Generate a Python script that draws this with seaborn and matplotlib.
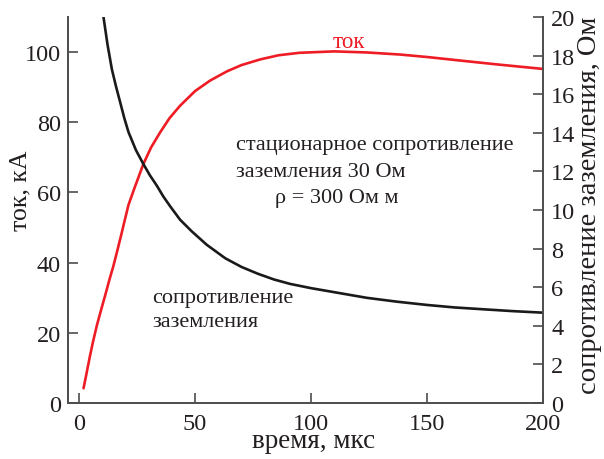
import matplotlib
matplotlib.use("Agg")
import matplotlib.pyplot as plt
import seaborn as sns
import pandas as pd

# Current waveform, kA
time_current = [1.9, 3.0, 4.7, 6.0, 7.6, 9.5, 11.2, 13.0, 14.8, 16.6, 18.4,
                20.0, 21.3, 24.0, 27.7, 31.0, 34.9, 39.0, 43.5, 50.0, 56.5,
                63.7, 70.0, 78.0, 86.0, 95.0, 110.0, 124.0, 138.4, 150.0,
                165.6, 180.0, 200.0]
current = [4.2, 7.8, 13.5, 17.5, 22.0, 26.6, 30.6, 35.0, 39.1, 43.8, 48.6,
           53.0, 56.5, 61.5, 68.1, 72.8, 77.1, 81.2, 84.7, 88.9, 91.9,
           94.5, 96.3, 97.9, 99.1, 99.8, 100.2, 99.9, 99.3, 98.6,
           97.5, 96.5, 95.2]

# Grounding resistance, Ohm
time_resist = [10.5, 12.2, 14.1, 15.9, 17.7, 19.5, 21.3, 24.5, 27.7, 30.5,
               33.5, 36.3, 39.2, 43.5, 48.5, 55.0, 63.0, 70.0, 77.0, 84.0,
               91.0, 100.0, 109.6, 124.0, 137.0, 150.0, 162.0, 175.0, 187.0,
               200.0]
resist = [20.0, 18.6, 17.3, 16.4, 15.58, 14.75, 14.03, 13.1, 12.38, 11.8,
          11.26, 10.7, 10.2, 9.5, 8.9, 8.2, 7.5, 7.05, 6.7, 6.4,
          6.17, 5.95, 5.75, 5.45, 5.25, 5.08, 4.95, 4.85, 4.76,
          4.68]

x_ticks = [0, 50, 100, 150, 200]
left_ticks = [0, 20, 40, 60, 80, 100]
right_ticks = list(range(0, 21, 2))

sns.set_theme(style="ticks")
plt.rcParams["font.family"] = ["Liberation Serif", "DejaVu Serif"]

ink = "#231f20"
spine_col = "#4d4d4d"
red = "#ee1c25"

fig = plt.figure(figsize=(6.04, 4.60), dpi=100)
ax = fig.add_axes([68 / 604, 1 - 404 / 460, (543 - 68) / 604, (404 - 18) / 460])
ax2 = ax.twinx()

df_i = pd.DataFrame({"t": time_current, "I": current})
df_r = pd.DataFrame({"t": time_resist, "R": resist})

sns.lineplot(data=df_i, x="t", y="I", ax=ax, color=red, lw=1.9,
             estimator=None, sort=False)
sns.lineplot(data=df_r, x="t", y="R", ax=ax2, color="#1a1a1a", lw=1.9,
             estimator=None, sort=False)

ax.set_xlim(-4.8, 200)
ax.set_ylim(0, 110)
ax2.set_ylim(0, 20)
ax.set_xticks(x_ticks)
ax.set_yticks(left_ticks)
ax2.set_yticks(right_ticks)

fs_tick = 17.5
for a in (ax, ax2):
    a.spines["top"].set_visible(False)
    for s in a.spines.values():
        s.set_color(spine_col)
        s.set_linewidth(1.4)
ax.spines["right"].set_visible(False)
ax2.spines["left"].set_visible(False)
ax2.spines["bottom"].set_visible(False)

ax.tick_params(axis="both", direction="in", length=7, width=1.2,
               color=spine_col, labelcolor=ink, labelsize=fs_tick)
ax.tick_params(axis="y", pad=5)
ax.tick_params(axis="x", pad=7)
ax2.tick_params(axis="y", direction="in", length=7, width=1.2,
                color=spine_col, labelcolor=ink, labelsize=fs_tick, pad=6)

ax.set_xlabel("время, мкс", fontsize=19.5, color=ink)
ax.set_ylabel("ток, кА", fontsize=18.5, color=ink)
ax2.set_ylabel("сопротивление заземления, Ом", fontsize=20.5, color=ink,
               rotation=90)
ax.xaxis.set_label_coords(0.516, -0.096)
ax.yaxis.set_label_coords(-0.101, 0.552)
ax2.yaxis.set_label_coords(1.097, 0.516)
ax.xaxis.label.set_va("center")
ax.yaxis.label.set_va("center")
ax2.yaxis.label.set_va("center")

fs_note = 16
ax.text(116.4, 102.9, "ток", color=red, fontsize=16.5,
        ha="center", va="center")
ax.text(67.7, 73.8, "стационарное сопротивление", fontsize=fs_note,
        color=ink, ha="left", va="center")
ax.text(67.7, 66.1, "заземления 30 Ом", fontsize=fs_note,
        color=ink, ha="left", va="center")
ax.text(84.5, 58.7, "ρ = 300 Ом м", fontsize=fs_note,
        color=ink, ha="left", va="center")
ax.text(31.5, 30.2, "сопротивление", fontsize=fs_note,
        color=ink, ha="left", va="center")
ax.text(31.5, 23.1, "заземления", fontsize=fs_note,
        color=ink, ha="left", va="center")

fig.savefig("out.png", dpi=100)
